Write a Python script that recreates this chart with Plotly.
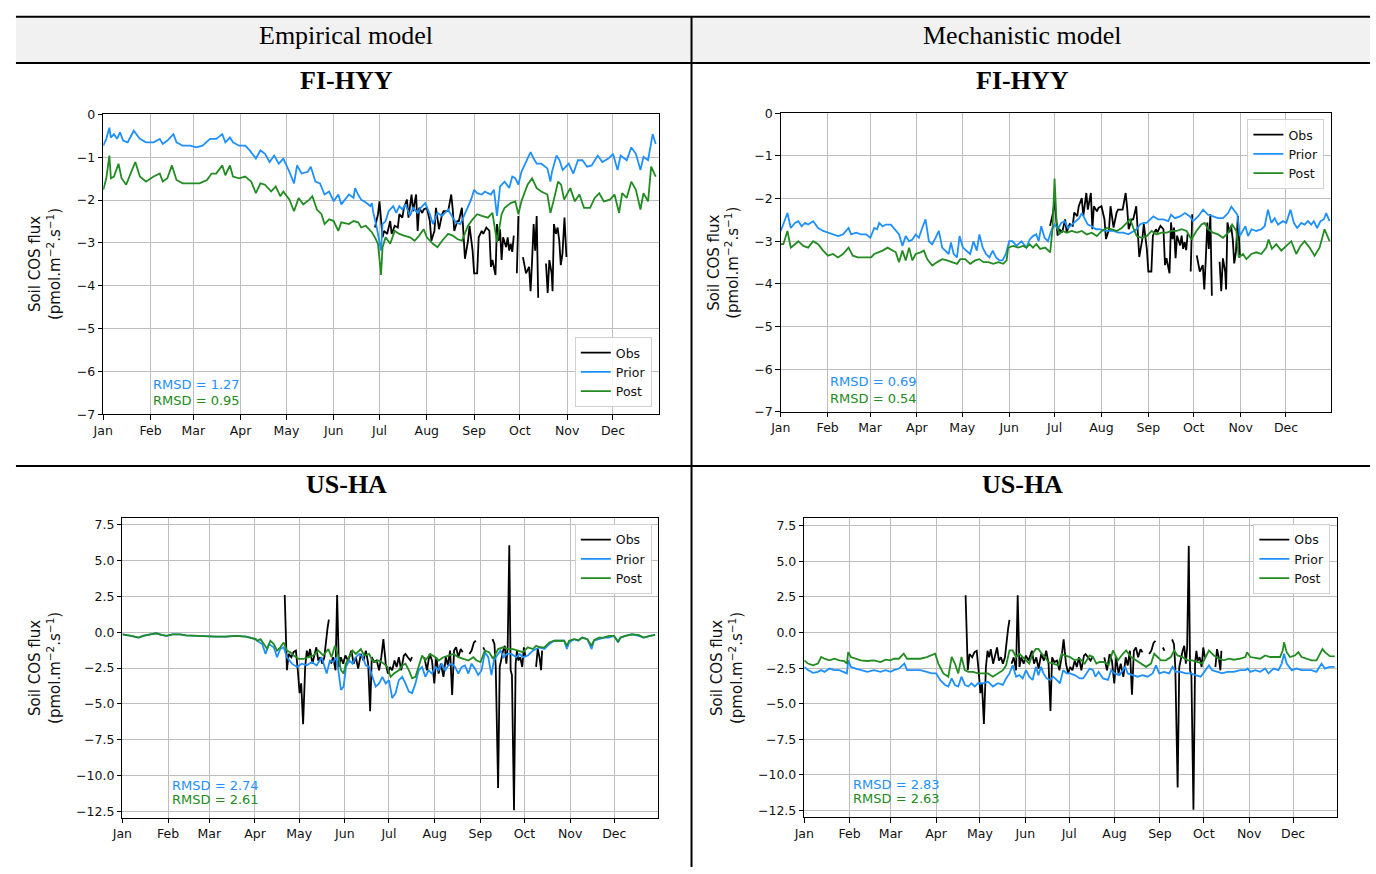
import pandas as pd
import plotly.graph_objects as go

W, H = 1376, 874
BASE = pd.Timestamp("2017-01-01")

MONTHS = ["Jan", "Feb", "Mar", "Apr", "May", "Jun", "Jul", "Aug", "Sep", "Oct", "Nov", "Dec"]
COLUMN_TITLES = ["Empirical model", "Mechanistic model"]
SITE_TITLES = ["FI-HYY", "US-HA"]
SERIES_NAMES = ["Obs", "Prior", "Post"]
RMSD_PRIOR = [1.27, 0.69, 2.74, 2.83]
RMSD_POST = [0.95, 0.54, 2.61, 2.63]

# (day of year offset, flux) pairs; (None, None) marks a gap in the record
HYY_OBS = [
    (178, -2.64), (180, -2.33), (181, -2.03), (183, -2.87), (184, -2.72), (186, -2.79), (188, -2.49),
    (189, -2.79), (191, -2.60), (193, -2.64), (194, -2.33), (196, -2.41), (197, -2.18), (199, -1.99),
    (200, -2.41), (201, -2.10), (202, -1.87), (203, -2.26), (205, -1.87), (206, -2.72), (207, -2.18),
    (209, -2.30), (210, -2.22), (212, -2.18), (214, -2.49), (215, -2.95), (217, -2.72), (218, -2.18),
    (220, -2.68), (222, -2.33), (223, -2.26), (226, -2.26), (228, -1.87), (229, -2.22), (230, -2.72),
    (232, -2.49), (233, -2.49), (235, -2.18), (236, -2.87), (237, -3.37), (239, -2.95), (240, -2.60),
    (242, -3.18), (243, -3.71), (245, -3.71), (246, -2.87), (248, -2.72), (249, -2.79), (251, -2.64),
    (253, -2.72), (254, -3.56), (255, -3.40), (257, -3.75), (258, -2.56), (259, -2.95), (260, -2.68),
    (261, -3.40), (262, -2.87), (264, -3.10), (265, -2.87), (266, -3.18), (267, -3.02), (268, -3.21),
    (269, -2.83), (None, None),
    (271, -3.71), (272, -2.37), (None, None),
    (275, -3.33), (276, -3.56), (277, -3.71), (279, -3.56), (280, -4.13), (281, -3.40), (282, -2.56),
    (283, -3.18), (284, -2.37), (285, -4.28), (None, None),
    (290.1, -3.48), (291.2, -4.17), (292.3, -3.40), (293.8, -3.71), (294.4, -4.13), (295.3, -2.56),
    (296.6, -2.79), (297.7, -2.64), (298.8, -2.95), (299.8, -3.52), (300.9, -3.25), (302.2, -2.41),
    (303.5, -3.33),
]

HYY_EMP_PRIOR = [
    (0, -0.73), (2, -0.57), (4, -0.31), (5, -0.54), (7, -0.46), (9, -0.57), (11, -0.42), (13, -0.61),
    (16, -0.65), (20, -0.38), (24, -0.57), (28, -0.65), (33, -0.65), (37, -0.57), (39, -0.69),
    (42, -0.61), (46, -0.46), (48, -0.65), (52, -0.73), (57, -0.73), (61, -0.77), (65, -0.73),
    (70, -0.57), (74, -0.57), (78, -0.46), (80, -0.65), (83, -0.54), (85, -0.65), (89, -0.73),
    (93, -0.73), (96, -0.84), (100, -1.03), (103, -0.84), (106, -0.92), (109, -1.11), (112, -0.96),
    (115, -1.15), (118, -1.03), (122, -1.34), (125, -1.61), (127, -1.19), (130, -1.38), (134, -1.34),
    (136, -1.22), (139, -1.57), (142, -1.61), (145, -1.87), (148, -1.80), (151, -2.03), (154, -1.87),
    (156, -2.10), (161, -1.87), (164, -1.95), (165, -1.72), (167, -1.87), (169, -1.99), (171, -2.03),
    (175, -2.14), (176, -2.07), (177, -2.30), (179, -2.60), (182, -3.18), (183, -2.56), (185, -2.49),
    (187, -2.26), (190, -2.14), (192, -2.30), (194, -2.14), (196, -2.22), (198, -2.10), (201, -2.37),
    (203, -2.18), (206, -2.30), (208, -2.18), (211, -2.07), (214, -2.33), (216, -2.56), (219, -2.30),
    (222, -2.37), (226, -2.22), (229, -2.41), (231, -2.52), (234, -2.56), (237, -2.33), (241, -1.99),
    (243, -1.76), (245, -1.84), (248, -1.87), (250, -1.80), (254, -1.87), (256, -1.76), (258, -2.37),
    (260, -1.68), (263, -1.57), (266, -1.72), (268, -1.45), (270, -1.49), (272, -1.64), (274, -1.34),
    (278, -1.03), (280, -0.88), (282, -1.03), (284, -1.15), (287, -1.15), (291, -1.26), (293, -1.57),
    (294, -1.34), (297, -0.96), (299, -1.07), (301, -1.30), (305, -1.15), (308, -1.38), (311, -1.07),
    (314, -1.07), (317, -1.22), (320, -1.19), (324, -0.96), (327, -1.11), (331, -1.03), (334, -0.92),
    (337, -1.30), (339, -0.96), (343, -1.07), (346, -0.77), (349, -0.92), (352, -1.30), (354, -0.99),
    (357, -1.07), (360, -0.46), (362, -0.69),
]

HYY_EMP_POST = [
    (0, -1.76), (2, -1.49), (4, -0.96), (5, -1.49), (7, -1.45), (10, -1.15), (12, -1.49), (15, -1.64),
    (21, -1.11), (24, -1.45), (28, -1.57), (33, -1.45), (37, -1.38), (39, -1.57), (42, -1.49),
    (45, -1.19), (48, -1.53), (52, -1.61), (58, -1.61), (63, -1.61), (68, -1.53), (71, -1.38),
    (74, -1.38), (78, -1.19), (80, -1.42), (83, -1.19), (85, -1.45), (89, -1.49), (93, -1.45),
    (97, -1.57), (100, -1.84), (103, -1.61), (106, -1.64), (110, -1.80), (113, -1.68), (116, -1.91),
    (118, -1.80), (122, -1.99), (125, -2.26), (128, -1.95), (131, -2.10), (135, -1.99), (137, -1.91),
    (140, -2.22), (143, -2.33), (145, -2.56), (148, -2.45), (151, -2.49), (154, -2.72), (156, -2.52),
    (161, -2.56), (164, -2.49), (167, -2.52), (169, -2.64), (172, -2.60), (176, -2.75), (178, -2.87),
    (180, -3.02), (182, -3.75), (183, -3.10), (185, -2.87), (188, -3.02), (191, -2.72), (194, -2.79),
    (197, -2.83), (201, -2.87), (204, -2.95), (207, -2.83), (210, -2.68), (212, -2.87), (216, -3.02),
    (219, -3.10), (222, -2.95), (226, -2.79), (229, -2.83), (232, -2.91), (235, -2.95), (239, -2.60),
    (242, -2.45), (245, -2.33), (248, -2.37), (252, -2.41), (255, -2.30), (258, -2.98), (261, -2.33),
    (263, -2.18), (267, -2.07), (270, -2.03), (272, -2.33), (274, -2.03), (278, -1.64), (281, -1.49),
    (284, -1.72), (287, -1.80), (291, -1.87), (293, -2.30), (295, -2.03), (298, -1.57), (300, -1.64),
    (302, -1.99), (306, -1.72), (309, -2.03), (312, -1.87), (315, -2.18), (319, -2.18), (322, -1.95),
    (325, -1.84), (328, -2.03), (332, -1.99), (335, -1.87), (338, -2.30), (340, -1.84), (343, -1.95),
    (346, -1.57), (349, -1.76), (352, -2.22), (354, -1.84), (357, -2.03), (359, -1.22), (362, -1.45),
]

HYY_MECH_PRIOR = [
    (0, -2.76), (1.7, -2.61), (4.4, -2.34), (6.6, -2.69), (9.4, -2.57), (11.6, -2.53), (13.8, -2.65),
    (16, -2.57), (18.1, -2.61), (21.4, -2.53), (24.7, -2.69), (28, -2.76), (31.2, -2.80), (34.5, -2.84),
    (37.8, -2.88), (41.1, -2.84), (44.8, -2.69), (46.5, -2.84), (49.8, -2.80), (53.1, -2.84),
    (56.4, -2.84), (59.2, -2.92), (61.8, -2.69), (63.6, -2.72), (65.1, -2.57), (67.3, -2.65),
    (69.5, -2.61), (72.8, -2.61), (76, -2.76), (78.2, -2.84), (80.4, -3.11), (82.6, -2.88), (84.8, -3.00),
    (87, -2.96), (89.2, -2.84), (91.3, -2.92), (93.5, -2.69), (95.7, -2.49), (97.9, -3.00), (100.1, -3.07),
    (102.3, -2.92), (104.5, -2.76), (106.7, -3.15), (108.8, -3.22), (111, -3.30), (112.5, -3.03),
    (114.3, -3.30), (116.5, -3.38), (118.2, -2.88), (120.4, -3.15), (123, -3.22), (125.2, -3.30),
    (127.4, -3.00), (129.6, -3.22), (131.3, -2.84), (133.5, -3.15), (135.7, -3.30), (137.9, -3.38),
    (140.1, -3.22), (142.3, -3.38), (144.5, -3.45), (146.6, -3.45), (148.8, -3.30), (151, -3.00),
    (153.2, -3.00), (155.8, -3.11), (159.1, -3.00), (162.4, -3.15), (164.6, -2.96), (166.7, -2.88),
    (168.9, -2.84), (170.5, -3.00), (172.2, -2.65), (174.4, -2.92), (176.6, -3.00), (178.8, -2.76),
    (181, -2.61), (183.2, -2.72), (185.4, -2.57), (187.6, -2.53), (189.8, -2.69), (192.4, -2.61),
    (195.1, -2.53), (197.3, -2.46), (199, -2.34), (200.8, -2.46), (203, -2.61), (205.6, -2.65),
    (208.3, -2.72), (211.1, -2.72), (214, -2.76), (217, -2.76), (219.9, -2.76), (223.2, -2.80),
    (226.5, -2.80), (229.8, -2.84), (233.1, -2.76), (235.3, -2.72), (237.5, -2.61), (239.7, -2.57),
    (241.9, -2.57), (244.1, -2.49), (246.3, -2.42), (249.6, -2.49), (252.9, -2.49), (256.2, -2.53),
    (258, -2.38), (260.6, -2.46), (263.9, -2.42), (267.2, -2.34), (270.5, -2.42), (272.6, -2.53),
    (275.9, -2.42), (279.2, -2.26), (282.5, -2.38), (285.8, -2.42), (289.1, -2.46), (292.4, -2.46),
    (295.7, -2.34), (297.9, -2.19), (300.1, -2.30), (301.9, -2.38), (303.4, -2.88), (305.6, -2.76),
    (307.2, -2.65), (308.9, -2.88), (311.2, -2.72), (314.4, -2.76), (317.7, -2.72), (319.9, -2.65),
    (322.1, -2.26), (324.3, -2.57), (326.5, -2.46), (328.7, -2.61), (332, -2.53), (334.2, -2.57),
    (337, -2.26), (339.2, -2.57), (341.4, -2.69), (344.1, -2.57), (346.3, -2.61), (348.5, -2.53),
    (350.7, -2.61), (352.4, -2.53), (354.6, -2.69), (356.8, -2.53), (359, -2.49), (360.6, -2.34),
    (362.8, -2.53),
]

HYY_MECH_POST = [
    (0, -3.07), (1.7, -3.07), (4.4, -2.76), (6.6, -3.15), (9.4, -3.07), (11.6, -3.00), (14.9, -3.11),
    (18.1, -3.15), (21.4, -3.00), (24.7, -3.07), (28, -3.22), (31.2, -3.34), (34.5, -3.30), (37.8, -3.38),
    (41.1, -3.30), (44.8, -3.15), (47.6, -3.34), (50.9, -3.38), (55.3, -3.38), (59.7, -3.38),
    (61.8, -3.30), (65.1, -3.26), (67.3, -3.22), (70.6, -3.15), (73.9, -3.22), (76, -3.26), (78.2, -3.49),
    (80.4, -3.22), (82.6, -3.45), (84.8, -3.15), (87, -3.45), (89.2, -3.30), (92.4, -3.26), (94.6, -3.22),
    (96.8, -3.42), (100.1, -3.57), (103.4, -3.49), (106.7, -3.42), (109.9, -3.45), (113.2, -3.49),
    (116.5, -3.53), (118.7, -3.42), (121.9, -3.42), (125.2, -3.53), (128.5, -3.45), (131.3, -3.42),
    (134, -3.49), (137.2, -3.49), (140.5, -3.53), (143.8, -3.49), (147.1, -3.53), (149.3, -3.45),
    (150.3, -3.15), (153.6, -3.11), (156.9, -3.15), (160.2, -3.11), (162.4, -3.15), (164.6, -3.07),
    (166.7, -3.15), (168.9, -3.07), (171.5, -3.18), (174.8, -3.15), (178.1, -3.26), (179.7, -2.69),
    (181, -1.53), (182.3, -2.53), (184.1, -2.84), (186.3, -2.76), (189.1, -2.80), (192.4, -2.76),
    (195.7, -2.80), (199, -2.76), (202.3, -2.84), (205.6, -2.80), (208.9, -2.88), (212.2, -2.76),
    (215.5, -2.69), (218.8, -2.72), (222.1, -2.76), (225.4, -2.69), (228.7, -2.57), (231, -2.49),
    (233.1, -2.69), (235.3, -2.88), (238.6, -2.92), (241.9, -2.88), (245.2, -2.76), (248.5, -2.84),
    (251.8, -2.80), (255.1, -2.80), (258.4, -2.76), (261.7, -2.76), (264.9, -2.72), (268.3, -2.76),
    (271.5, -2.96), (274.8, -2.76), (278.1, -2.61), (280.3, -2.57), (282.5, -2.72), (285.8, -2.80),
    (289.1, -2.84), (292.4, -2.92), (295.7, -2.80), (298.4, -2.61), (301.2, -2.76), (302.8, -3.38),
    (305.6, -3.30), (307.8, -3.42), (311.1, -3.30), (314.4, -3.26), (317.7, -3.30), (321, -3.15),
    (322.5, -2.96), (324.7, -3.18), (327.6, -3.07), (330.9, -3.22), (334.2, -3.11), (337.5, -3.00),
    (340.8, -3.30), (343.6, -3.11), (346.3, -3.00), (349.6, -3.15), (352.9, -3.34), (356.2, -3.15),
    (359.5, -2.72), (362.8, -3.00),
]

HA_OBS = [
    (110.2, 2.61), (111.7, -2.65), (112.9, -1.51), (114.7, -1.74), (116.2, -1.39), (117.8, -1.28),
    (119.1, -2.65), (120.3, -4.25), (121.4, -3.57), (122.7, -6.42), (124.1, -2.42), (125.2, -1.28),
    (126.3, -1.74), (127.4, -1.17), (129, -2.19), (130.4, -1.62), (131.7, -1.05), (133, -1.97),
    (134.4, -1.74), (135.7, -2.19), (137.1, -1.74), (139.3, 0.30), (140.2, 0.89), (None, None),
    (141.6, -2.19), (143.1, -1.74), (144.7, -2.65), (145.8, 2.61), (147, -2.42), (148.3, -1.74),
    (149.9, -2.19), (151.4, -1.62), (153.2, -1.97), (155.5, -1.28), (157, -2.19), (158.5, -1.74),
    (160.1, -2.54), (161.9, -1.51), (163.7, -1.97), (165.3, -1.28), (166.9, -2.19), (168.2, -5.51),
    (169.3, -1.74), (170.9, -2.08), (172.7, -1.97), (174.3, -2.65), (175.8, -1.74), (177.2, -0.48),
    (178.8, -2.19), (180.3, -2.88), (181.7, -2.42), (183.2, -2.65), (184.8, -1.97), (186.2, -2.42),
    (187.7, -1.74), (189.3, -2.65), (191.1, -1.62), (192.2, -1.51), (193.8, -1.74), (195.6, -1.97),
    (196.7, -1.74), (None, None),
    (205, -1.74), (206.8, -2.65), (208.6, -1.51), (210.2, -1.97), (211.8, -3.57), (213.1, -1.74),
    (214.7, -2.88), (216.2, -2.19), (218, -3.11), (219.6, -1.74), (221, -2.31), (222.5, -1.28),
    (223.9, -4.37), (225.2, -1.28), (226.6, -1.05), (228.1, -1.74), (229.7, -1.17), (231.1, -1.39),
    (None, None),
    (235.6, -1.51), (237.1, -1.28), (238.7, -0.71), (240, -0.59), (None, None),
    (245, -1.05), (246.1, -1.28), (None, None),
    (251.3, -0.48), (252.6, -0.82), (253.5, -2.42), (255.1, -10.88), (256.2, -2.42), (257.3, -1.74),
    (258.5, -1.28), (259.6, -0.94), (260.7, -2.19), (261.6, -1.05), (262.7, 6.08), (263.6, -2.65),
    (264.5, -2.99), (265.9, -12.43), (267, -2.19), (267.9, -1.28), (268.8, -1.97), (270.1, -1.74),
    (271.5, -2.42), (272.6, -1.05), (273.7, -1.74), (None, None),
    (280.9, -2.42), (282, -1.17), (283.2, -1.74), (284.3, -2.65), (285, -1.28),
]

HA_EMP_PRIOR = [
    (0, -0.14), (3, -0.18), (6, -0.25), (11, -0.37), (14, -0.25), (19, -0.14), (23, -0.07),
    (26.5, -0.18), (30, -0.25), (34, -0.14), (39, -0.14), (43, -0.21), (50, -0.25), (57, -0.30),
    (63.5, -0.30), (70, -0.30), (77, -0.25), (84, -0.30), (87, -0.37), (90.4, -0.48), (91.5, -0.59),
    (94.9, -0.82), (97.2, -1.51), (99.4, -0.82), (102.8, -1.05), (105, -1.74), (107.2, -1.17),
    (109.5, -1.05), (111.7, -1.74), (115.1, -2.19), (118.5, -2.42), (121.8, -2.19), (125.2, -2.31),
    (128.6, -2.08), (131.9, -2.31), (135.3, -1.74), (138.7, -2.88), (140.9, -1.97), (143.1, -2.08),
    (145.4, -1.74), (148.4, -4.02), (150.2, -3.79), (151.8, -2.42), (154.1, -1.97), (156.3, -2.19),
    (158.5, -1.74), (160.8, -1.51), (163, -1.74), (165.3, -2.31), (167.5, -2.42), (169.8, -3.11),
    (172, -3.79), (174.3, -3.57), (176.5, -3.11), (178.8, -3.57), (181, -3.34), (183.2, -4.59),
    (185.5, -4.25), (187.7, -3.34), (190, -3.11), (192.2, -3.57), (194.5, -4.14), (196.7, -4.25),
    (199, -3.57), (201.2, -2.65), (203.5, -2.42), (205.7, -3.11), (207.9, -2.65), (210.2, -2.88),
    (212.4, -2.42), (214.7, -2.65), (216.9, -2.19), (219.2, -2.65), (221.4, -2.31), (223.7, -2.19),
    (225.9, -2.42), (228.1, -2.88), (230.4, -2.42), (232.6, -2.31), (234.9, -2.88), (237.1, -2.19),
    (239.4, -2.54), (241.6, -2.99), (243.9, -2.65), (246.1, -1.39), (248.4, -1.74), (250.6, -2.99),
    (252.2, -1.97), (254.4, -1.62), (256.7, -1.28), (258.9, -1.74), (261.2, -1.51), (264.1, -1.51),
    (267.4, -1.74), (269.7, -1.51), (271.9, -1.74), (275.3, -1.62), (278.7, -1.28), (280.9, -1.17),
    (283.6, -1.05), (286.5, -1.17), (289.9, -0.82), (293.2, -0.59), (296.6, -0.59), (300, -0.59),
    (301.8, -1.17), (303.3, -0.71), (306.7, -0.48), (309.6, -0.59), (312.3, -0.37), (315.7, -0.48),
    (318.6, -1.17), (320.2, -0.59), (323.6, -0.48), (326.9, -0.37), (330.3, -0.37), (333.7, -0.25),
    (336.6, -0.71), (338.2, -0.37), (341.5, -0.25), (346, -0.14), (350.5, -0.25), (353.9, -0.37),
    (358.4, -0.25), (361.7, -0.18),
]

HA_EMP_POST = [
    (0, -0.14), (3, -0.18), (6, -0.25), (11, -0.37), (14, -0.25), (19, -0.14), (23, -0.07),
    (26.5, -0.18), (30, -0.25), (34, -0.14), (39, -0.14), (43, -0.21), (50, -0.25), (57, -0.30),
    (63.5, -0.30), (70, -0.30), (77, -0.25), (84, -0.30), (87, -0.37), (90.4, -0.48), (91.5, -0.59),
    (93.8, -0.48), (96, -0.82), (98.3, -1.17), (100.5, -0.59), (102.8, -0.82), (105, -1.28),
    (107.2, -1.05), (109.5, -0.71), (111.7, -1.28), (114, -1.39), (116.2, -1.62), (119.6, -1.85),
    (123, -1.85), (126.3, -1.74), (129.7, -1.62), (133, -1.28), (136.4, -1.62), (139.8, -1.17),
    (142, -1.74), (144.3, -0.94), (146.5, -1.62), (148.4, -2.65), (150.2, -2.88), (151.8, -2.19),
    (154.1, -1.74), (156.3, -1.28), (158.5, -1.51), (161.9, -1.17), (164.2, -1.62), (167.5, -1.51),
    (169.8, -1.97), (172, -2.08), (174.3, -1.97), (177.6, -2.19), (179.9, -2.42), (182.1, -3.11),
    (184.4, -2.88), (187.7, -2.65), (190, -2.31), (192.2, -2.19), (194.5, -2.65), (196.7, -3.22),
    (199, -3.11), (201.2, -2.42), (203.5, -1.62), (205.7, -1.97), (209.1, -1.51), (212.4, -1.74),
    (214.7, -1.97), (218, -1.74), (221.4, -1.62), (224.8, -1.51), (228.1, -1.74), (231.5, -1.85),
    (234.9, -1.97), (238.3, -1.74), (240.5, -1.97), (243.2, -2.08), (246.1, -1.28), (249, -1.39),
    (251.7, -1.85), (255.1, -1.17), (258.5, -1.05), (261.8, -1.17), (265.2, -1.17), (268.6, -1.28),
    (271.9, -1.39), (275.3, -1.05), (278.7, -1.17), (280.9, -0.94), (283.6, -1.05), (286.5, -1.05),
    (289.9, -0.71), (293.2, -0.59), (296.6, -0.59), (300, -0.59), (301.8, -0.94), (303.3, -0.59),
    (306.7, -0.48), (309.6, -0.55), (312.3, -0.37), (315.7, -0.48), (318.6, -0.94), (320.2, -0.55),
    (323.6, -0.37), (326.9, -0.37), (330.3, -0.25), (333.7, -0.25), (336.6, -0.64), (338.2, -0.37),
    (341.5, -0.25), (346, -0.14), (350.5, -0.18), (353.9, -0.37), (358.4, -0.25), (361.7, -0.18),
]

HA_MECH_PRIOR = [
    (0, -2.41), (2.5, -2.64), (5.9, -2.83), (9.3, -2.76), (11.5, -2.64), (13.8, -2.76), (17.2, -2.53),
    (20.5, -2.64), (23.9, -2.64), (27.3, -2.76), (29.1, -2.87), (30, -1.95), (31.8, -2.41), (35.2, -2.53),
    (38.6, -2.64), (43.1, -2.76), (47.6, -2.64), (52.1, -2.76), (55.5, -2.64), (58.9, -2.76),
    (61.2, -2.64), (64.6, -2.53), (68.4, -2.18), (70.2, -2.64), (74.7, -2.64), (79.2, -2.64),
    (83.7, -2.76), (87.1, -2.87), (90.1, -2.87), (92.8, -3.33), (96.2, -3.68), (98.4, -3.79),
    (100.7, -3.22), (102.9, -3.68), (105.2, -3.79), (107.4, -3.10), (109.7, -3.68), (112, -3.79),
    (114.2, -3.56), (116.5, -3.79), (118.7, -3.56), (122.1, -3.56), (125.5, -3.45), (128.9, -3.79),
    (132.3, -3.56), (135.7, -3.68), (137.9, -3.22), (140.2, -2.87), (142.4, -2.30), (144.7, -3.10),
    (147, -2.99), (149.2, -3.22), (151.5, -2.64), (153.7, -3.10), (156, -3.33), (158.2, -2.41),
    (160, -2.99), (161.8, -2.41), (163.4, -2.87), (165.6, -3.22), (167.9, -3.33), (170.1, -3.10),
    (172.4, -3.33), (174.7, -3.56), (176.9, -2.64), (179.2, -2.87), (181.5, -2.87), (184.8, -2.99),
    (188.2, -3.22), (190.5, -3.22), (192.8, -2.87), (195, -2.53), (197.3, -2.64), (198.9, -3.10),
    (201.1, -2.76), (204.1, -3.22), (207.5, -3.33), (209.7, -2.64), (212, -2.87), (215.4, -2.99),
    (217.7, -2.64), (219.2, -2.41), (221, -2.87), (224.4, -2.99), (227.8, -3.10), (231.2, -2.99),
    (234.6, -3.10), (238, -2.87), (240.3, -2.30), (242.5, -2.87), (245.9, -2.76), (249.3, -2.87),
    (251.6, -2.41), (253.8, -2.76), (257.2, -2.76), (260.6, -2.87), (264, -2.87), (267.4, -2.99),
    (270.8, -3.10), (274.2, -2.64), (276.5, -2.30), (278.7, -2.64), (282.1, -2.76), (285.5, -2.87),
    (288.9, -2.76), (293.4, -2.76), (297.9, -2.64), (301.4, -2.64), (302.9, -2.53), (304.8, -2.76),
    (308.1, -2.64), (311.5, -2.76), (314.9, -2.53), (317.2, -2.87), (320.6, -2.53), (324, -2.64),
    (326.2, -2.18), (327.8, -1.49), (329.6, -2.18), (333, -2.64), (336.4, -2.53), (339.8, -2.64),
    (343.2, -2.64), (346.6, -2.64), (350, -2.76), (353.4, -2.18), (355.7, -2.53), (359.1, -2.41),
    (362.4, -2.41),
]

HA_MECH_POST = [
    (0, -1.95), (2.5, -2.18), (5.9, -2.30), (9.3, -2.18), (11.5, -1.72), (13.8, -1.84), (17.2, -1.95),
    (20.5, -1.84), (23.9, -1.95), (27.3, -2.00), (29.1, -2.18), (30, -1.38), (31.8, -1.72), (35.2, -1.84),
    (38.6, -1.95), (43.1, -2.00), (47.6, -1.95), (52.1, -2.07), (55.5, -1.91), (58.9, -1.95),
    (61.2, -1.84), (64.6, -1.84), (67.9, -1.49), (70.2, -1.84), (74.7, -1.84), (79.2, -1.84),
    (83.7, -1.72), (87.1, -1.61), (89.4, -1.49), (91.6, -2.18), (95, -2.87), (98.4, -3.10),
    (100.7, -1.72), (102.9, -2.18), (105.2, -2.87), (107.4, -1.72), (109.7, -2.64), (112, -2.76),
    (115.3, -2.76), (118.7, -2.87), (122.1, -2.87), (125.5, -2.87), (128.9, -3.10), (132.3, -2.87),
    (135.7, -2.64), (137.9, -2.30), (140.2, -1.26), (142.4, -1.26), (144.7, -1.72), (147, -1.49),
    (149.2, -1.72), (151.5, -1.95), (153.7, -2.18), (156, -1.49), (158.2, -1.15), (160, -1.15),
    (162.2, -1.49), (164.5, -1.72), (166.7, -2.07), (170.1, -2.18), (173.5, -2.30), (175.8, -1.49),
    (178.1, -1.61), (181.5, -1.72), (184.8, -1.95), (188.2, -1.84), (191.6, -2.18), (195, -1.61),
    (197.3, -1.72), (199.6, -2.18), (201.8, -2.07), (205.2, -2.07), (207.9, -2.30), (210.9, -1.26),
    (214.3, -1.95), (217.7, -1.49), (219.9, -1.26), (223.3, -1.72), (226.7, -1.95), (230.1, -2.18),
    (233.5, -2.41), (236.9, -2.18), (239.1, -1.49), (241.4, -1.72), (243.7, -1.95), (247.1, -1.95),
    (250.5, -1.72), (252.7, -1.26), (255, -1.61), (258.4, -1.72), (261.8, -1.95), (265.2, -1.95),
    (268.6, -2.07), (272, -2.18), (274.2, -1.72), (276.5, -1.26), (279.9, -1.61), (283.3, -1.84),
    (286.7, -1.95), (290, -1.84), (293.4, -1.91), (297.9, -1.84), (301.4, -1.72), (302.5, -1.38),
    (304.8, -1.72), (308.1, -1.77), (311.5, -1.84), (314.9, -1.61), (318.3, -1.72), (321.7, -1.72),
    (325.1, -1.72), (326.9, -1.26), (327.8, -0.69), (329.6, -1.38), (331.9, -1.72), (335.3, -1.61),
    (337.6, -1.38), (339.8, -1.72), (343.2, -1.84), (346.6, -1.95), (350, -1.95), (352.3, -1.49),
    (354.1, -1.15), (355.7, -1.38), (359.1, -1.66), (362.4, -1.68),
]

COLORS = {"Obs": "black", "Prior": "#1E90FF", "Post": "#228B22"}
SANS = "DejaVu Sans"
SERIF = "Liberation Serif"


def px_x(x):
    return x / W


def px_y(y):
    return 1 - y / H


def to_xy(pairs):
    xs, ys = [], []
    for d, v in pairs:
        if d is None:
            xs.append(None)
            ys.append(None)
        else:
            xs.append(BASE + pd.Timedelta(days=d))
            ys.append(v)
    return xs, ys


# panel geometry in pixels: (left, right, top, bottom)
PANELS = [
    (93, 653, 108.3, 413.3),
    (776, 1331, 107, 411),
    (112.3, 652.7, 518.5, 824),
    (799.7, 1336.7, 519.3, 823.3),
]
PANEL_DATA = [
    (HYY_OBS, HYY_EMP_PRIOR, HYY_EMP_POST),
    (HYY_OBS, HYY_MECH_PRIOR, HYY_MECH_POST),
    (HA_OBS, HA_EMP_PRIOR, HA_EMP_POST),
    (HA_OBS, HA_MECH_PRIOR, HA_MECH_POST),
]
LEGEND_POS = [
    dict(x=646, y=406, yanchor="bottom"),
    dict(x=1324, y=113, yanchor="top"),
    dict(x=646, y=525, yanchor="top"),
    dict(x=1330, y=525, yanchor="top"),
]
RMSD_POS = [(0.086, 0.098, 0.046), (0.085, 0.102, 0.046), (0.088, 0.108, 0.062), (0.088, 0.110, 0.063)]
YTITLE_X = [35, 718, 34.5, 722]

fig = go.Figure()
layout = dict(
    width=W, height=H, margin=dict(l=0, r=0, t=0, b=0),
    paper_bgcolor="white", plot_bgcolor="white",
    font=dict(family=SANS, size=12.5, color="#111"),
    shapes=[], annotations=[],
)

for i, (geom, series) in enumerate(zip(PANELS, PANEL_DATA)):
    n = "" if i == 0 else str(i + 1)
    left, right, top, bottom = geom
    lg = "legend" + n
    for name, pairs in zip(SERIES_NAMES, series):
        xs, ys = to_xy(pairs)
        fig.add_trace(go.Scatter(
            x=xs, y=ys, mode="lines", name=name,
            line=dict(color=COLORS[name], width=1.8),
            xaxis="x" + n, yaxis="y" + n, legend=lg, connectgaps=False,
        ))
    axis_common = dict(
        showgrid=True, gridcolor="#bdbdbd", gridwidth=1, zeroline=False,
        showline=True, mirror=True, linecolor="black", linewidth=1,
        ticks="outside", ticklen=4.5, tickcolor="black", tickwidth=1,
        tickfont=dict(family=SANS, size=12.5, color="#111"),
    )
    layout["xaxis" + n] = dict(
        axis_common, type="date", domain=[px_x(left), px_x(right)], anchor="y" + n,
        range=[BASE, BASE + pd.Timedelta(days=364)],
        tickvals=[BASE + pd.DateOffset(months=m) for m in range(12)], ticktext=MONTHS,
    )
    if i < 2:
        yextra = dict(range=[-7, 0], tickvals=list(range(-7, 1)))
    else:
        yextra = dict(range=[-12.96, 8.01], tickvals=[-12.5 + 2.5 * k for k in range(9)], tickformat=".1f")
    layout["yaxis" + n] = dict(
        axis_common, domain=[px_y(bottom), px_y(top)], anchor="x" + n, **yextra,
    )
    lp = LEGEND_POS[i]
    layout[lg] = dict(
        x=px_x(lp["x"]), y=px_y(lp["y"]), xanchor="right", yanchor=lp["yanchor"],
        xref="paper", yref="paper",
        bgcolor="rgba(255,255,255,0.85)", bordercolor="#d0d0d0", borderwidth=1,
        font=dict(family=SANS, size=12.5, color="#111"), tracegroupgap=0, itemwidth=30,
    )
    rx, ry1, ry2 = RMSD_POS[i]
    for txt, val, yy, col in (("RMSD = ", RMSD_PRIOR[i], ry1, COLORS["Prior"]),
                              ("RMSD = ", RMSD_POST[i], ry2, COLORS["Post"])):
        layout["annotations"].append(dict(
            text=f"{txt}{val:.2f}", xref="x" + n + " domain", yref="y" + n + " domain",
            x=rx, y=yy, xanchor="left", yanchor="middle", showarrow=False,
            font=dict(family=SANS, size=13, color=col),
        ))
    layout["annotations"].append(dict(
        text="Soil COS flux<br>(pmol.m<sup>\u22122</sup>.s<sup>\u22121</sup>)",
        xref="paper", yref="paper", x=px_x(YTITLE_X[i]), y=px_y((top + bottom) / 2),
        xanchor="center", yanchor="middle", textangle=-90, showarrow=False,
        font=dict(family=SANS, size=15, color="#111"),
    ))

# table frame around the four panels
layout["shapes"] += [
    dict(type="rect", xref="paper", yref="paper", x0=px_x(5), x1=px_x(1370), y0=px_y(56), y1=px_y(9),
         fillcolor="#f1f1f1", line=dict(width=0), layer="below"),
    dict(type="line", xref="paper", yref="paper", x0=px_x(5), x1=px_x(1370), y0=px_y(9), y1=px_y(9),
         line=dict(color="black", width=2)),
    dict(type="line", xref="paper", yref="paper", x0=px_x(5), x1=px_x(1370), y0=px_y(56), y1=px_y(56),
         line=dict(color="black", width=2)),
    dict(type="line", xref="paper", yref="paper", x0=px_x(5), x1=px_x(1370), y0=px_y(466), y1=px_y(466),
         line=dict(color="black", width=2)),
    dict(type="line", xref="paper", yref="paper", x0=px_x(686), x1=px_x(686), y0=px_y(9), y1=0,
         line=dict(color="black", width=2)),
]

for cx, col_title in zip((338, 1019.5), COLUMN_TITLES):
    layout["annotations"].append(dict(
        text=col_title, xref="paper", yref="paper", x=px_x(cx), y=px_y(28),
        xanchor="center", yanchor="middle", showarrow=False,
        font=dict(family=SERIF, size=26, color="black"),
    ))
    for cy, site in zip((74, 485), SITE_TITLES):
        layout["annotations"].append(dict(
            text=f"<b>{site}</b>", xref="paper", yref="paper", x=px_x(cx), y=px_y(cy),
            xanchor="center", yanchor="middle", showarrow=False,
            font=dict(family=SERIF, size=26, color="black"),
        ))

fig.update_layout(**layout)
fig.write_html("out.html")
